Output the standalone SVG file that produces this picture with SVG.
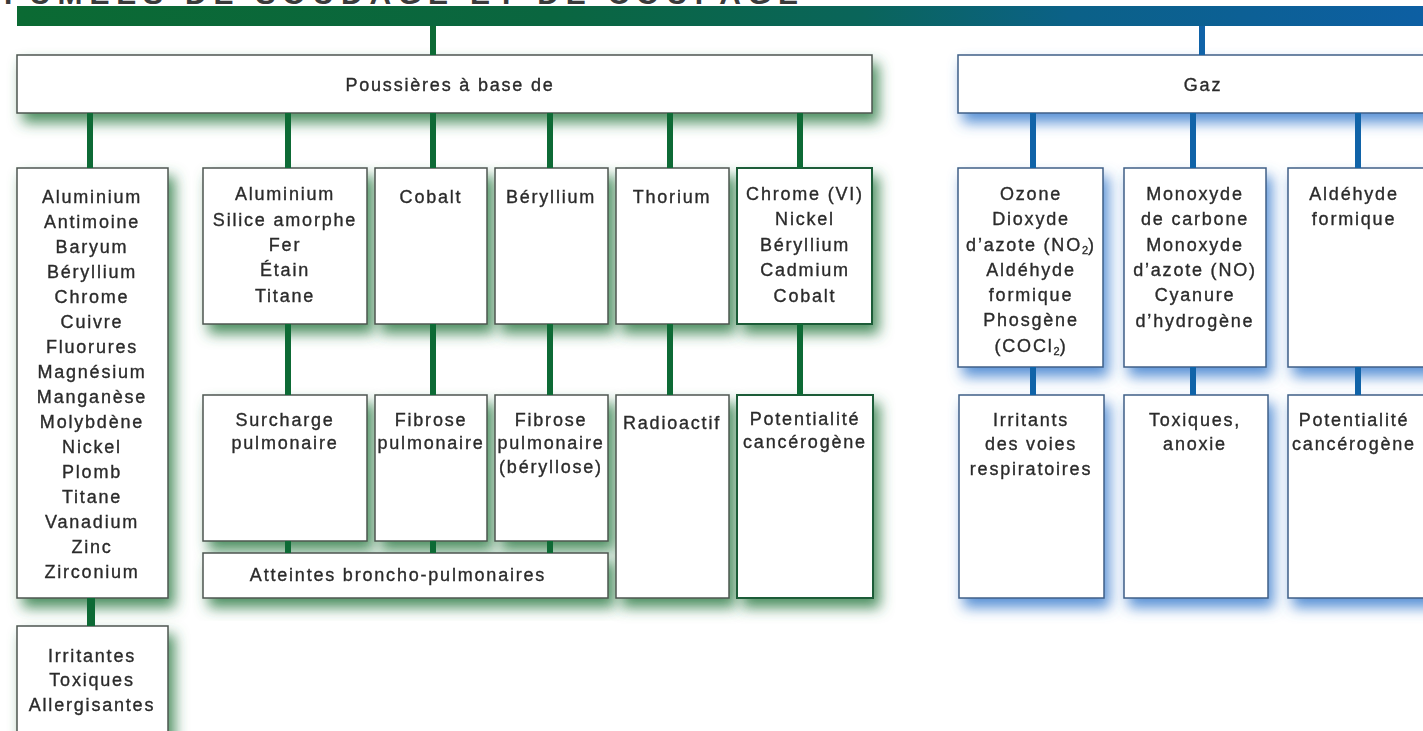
<svg xmlns="http://www.w3.org/2000/svg" width="1423" height="731" viewBox="0 0 1423 731">
<style>
  .t{font-family:"Liberation Sans",Arial,sans-serif;font-size:18px;fill:#2b2b2b;stroke:#2b2b2b;stroke-width:0.35px;text-anchor:middle;letter-spacing:1.8px}
  .title{font-family:"Liberation Sans",Arial,sans-serif;font-size:30px;font-weight:bold;fill:#3a3a3a;letter-spacing:6px}
  .bg{fill:#fff;stroke:#4d5650;stroke-width:1.5}
  .bgd{fill:#fff;stroke:#1f5c37;stroke-width:2}
  .bb{fill:#fff;stroke:#3f5f86;stroke-width:1.5}
  .cg{stroke:#0d6a35;stroke-width:6;fill:none}
  .cb{stroke:#1063a8;stroke-width:6;fill:none}
  .sub{font-size:11px;letter-spacing:0}
</style>
<defs>
  <linearGradient id="bar" x1="17" y1="0" x2="1423" y2="0" gradientUnits="userSpaceOnUse">
    <stop offset="0" stop-color="#0b6a33"/>
    <stop offset="0.38" stop-color="#0a6640"/>
    <stop offset="0.6" stop-color="#0a655a"/>
    <stop offset="0.75" stop-color="#0b6188"/>
    <stop offset="1" stop-color="#0d5fa3"/>
  </linearGradient>
  <filter id="shg" x="-15%" y="-40%" width="135%" height="190%">
    <feGaussianBlur in="SourceAlpha" stdDeviation="7"/>
    <feOffset dx="6" dy="9" result="b"/>
    <feFlood flood-color="#2f7d47" flood-opacity="0.85"/>
    <feComposite in2="b" operator="in"/>
    <feMerge><feMergeNode/><feMergeNode in="SourceGraphic"/></feMerge>
  </filter>
  <filter id="shb" x="-15%" y="-40%" width="135%" height="190%">
    <feGaussianBlur in="SourceAlpha" stdDeviation="7"/>
    <feOffset dx="5" dy="9" result="b"/>
    <feFlood flood-color="#3d7fcf" flood-opacity="0.85"/>
    <feComposite in2="b" operator="in"/>
    <feMerge><feMergeNode/><feMergeNode in="SourceGraphic"/></feMerge>
  </filter>
</defs>
<rect width="1423" height="731" fill="#fff"/>
<text class="title" x="4" y="4" textLength="800">FUMÉES DE SOUDAGE ET DE COUPAGE</text>
<rect id="header-bar" x="17" y="6" width="1406" height="20" fill="url(#bar)"/>

<g id="poussieres" filter="url(#shg)">
  <rect class="bg" x="17" y="55" width="855" height="58"/>
  <text class="t" x="450" y="91">Poussières à base de</text>
</g>
<g id="gaz" filter="url(#shb)">
  <rect class="bb" x="958" y="55" width="480" height="58"/>
  <text class="t" x="1203" y="91">Gaz</text>
</g>

<g id="metaux-liste" filter="url(#shg)">
  <rect class="bg" x="17" y="168" width="151" height="430"/>
  <text class="t" x="92" y="203">Aluminium</text>
  <text class="t" x="92" y="228">Antimoine</text>
  <text class="t" x="92" y="253">Baryum</text>
  <text class="t" x="92" y="278">Béryllium</text>
  <text class="t" x="92" y="303">Chrome</text>
  <text class="t" x="92" y="328">Cuivre</text>
  <text class="t" x="92" y="353">Fluorures</text>
  <text class="t" x="92" y="378">Magnésium</text>
  <text class="t" x="92" y="403">Manganèse</text>
  <text class="t" x="92" y="428">Molybdène</text>
  <text class="t" x="92" y="453">Nickel</text>
  <text class="t" x="92" y="478">Plomb</text>
  <text class="t" x="92" y="503">Titane</text>
  <text class="t" x="92" y="528">Vanadium</text>
  <text class="t" x="92" y="553">Zinc</text>
  <text class="t" x="92" y="578">Zirconium</text>
</g>
<g id="alu-silice" filter="url(#shg)">
  <rect class="bg" x="203" y="168" width="164" height="156"/>
  <text class="t" x="285" y="200">Aluminium</text>
  <text class="t" x="285" y="226">Silice amorphe</text>
  <text class="t" x="285" y="251">Fer</text>
  <text class="t" x="285" y="276">Étain</text>
  <text class="t" x="285" y="302">Titane</text>
</g>
<g id="cobalt" filter="url(#shg)">
  <rect class="bg" x="375" y="168" width="112" height="156"/>
  <text class="t" x="431" y="203">Cobalt</text>
</g>
<g id="beryllium" filter="url(#shg)">
  <rect class="bg" x="495" y="168" width="113" height="156"/>
  <text class="t" x="551" y="203">Béryllium</text>
</g>
<g id="thorium" filter="url(#shg)">
  <rect class="bg" x="616" y="168" width="113" height="156"/>
  <text class="t" x="672" y="203">Thorium</text>
</g>
<g id="chrome-vi" filter="url(#shg)">
  <rect class="bgd" x="737" y="168" width="135" height="156"/>
  <text class="t" x="805" y="200">Chrome (VI)</text>
  <text class="t" x="805" y="225">Nickel</text>
  <text class="t" x="805" y="251">Béryllium</text>
  <text class="t" x="805" y="276">Cadmium</text>
  <text class="t" x="805" y="302">Cobalt</text>
</g>

<g id="surcharge" filter="url(#shg)">
  <rect class="bg" x="203" y="395" width="164" height="146"/>
  <text class="t" x="285" y="426">Surcharge</text>
  <text class="t" x="285" y="449">pulmonaire</text>
</g>
<g id="fibrose" filter="url(#shg)">
  <rect class="bg" x="375" y="395" width="112" height="146"/>
  <text class="t" x="431" y="426">Fibrose</text>
  <text class="t" x="431" y="449">pulmonaire</text>
</g>
<g id="berylliose" filter="url(#shg)">
  <rect class="bg" x="495" y="395" width="113" height="146"/>
  <text class="t" x="551" y="426">Fibrose</text>
  <text class="t" x="551" y="449">pulmonaire</text>
  <text class="t" x="551" y="473">(béryllose)</text>
</g>
<g id="atteintes" filter="url(#shg)">
  <rect class="bg" x="203" y="553" width="405" height="45"/>
  <text class="t" x="398" y="581">Atteintes broncho-pulmonaires</text>
</g>
<g id="radioactif" filter="url(#shg)">
  <rect class="bg" x="616" y="395" width="113" height="203"/>
  <text class="t" x="672" y="429">Radioactif</text>
</g>
<g id="cancerogene-p" filter="url(#shg)">
  <rect class="bgd" x="737" y="395" width="136" height="203"/>
  <text class="t" x="805" y="425">Potentialité</text>
  <text class="t" x="805" y="448">cancérogène</text>
</g>
<g id="irritantes" filter="url(#shg)">
  <rect class="bg" x="17" y="626" width="151" height="120"/>
  <text class="t" x="92" y="662">Irritantes</text>
  <text class="t" x="92" y="686">Toxiques</text>
  <text class="t" x="92" y="711">Allergisantes</text>
</g>

<g id="ozone" filter="url(#shb)">
  <rect class="bb" x="958" y="168" width="145" height="199"/>
  <text class="t" x="1031" y="200">Ozone</text>
  <text class="t" x="1031" y="225">Dioxyde</text>
  <text class="t" x="1031" y="251">d’azote (NO<tspan class="sub" dy="3">2</tspan><tspan dy="-3">)</tspan></text>
  <text class="t" x="1031" y="276">Aldéhyde</text>
  <text class="t" x="1031" y="301">formique</text>
  <text class="t" x="1031" y="326">Phosgène</text>
  <text class="t" x="1031" y="352">(COCl<tspan class="sub" dy="3">2</tspan><tspan dy="-3">)</tspan></text>
</g>
<g id="monoxyde" filter="url(#shb)">
  <rect class="bb" x="1124" y="168" width="142" height="199"/>
  <text class="t" x="1195" y="200">Monoxyde</text>
  <text class="t" x="1195" y="225">de carbone</text>
  <text class="t" x="1195" y="251">Monoxyde</text>
  <text class="t" x="1195" y="276">d’azote (NO)</text>
  <text class="t" x="1195" y="301">Cyanure</text>
  <text class="t" x="1195" y="327">d’hydrogène</text>
</g>
<g id="aldehyde" filter="url(#shb)">
  <rect class="bb" x="1288" y="168" width="150" height="199"/>
  <text class="t" x="1354" y="200">Aldéhyde</text>
  <text class="t" x="1354" y="225">formique</text>
</g>
<g id="irritants-gaz" filter="url(#shb)">
  <rect class="bb" x="959" y="395" width="145" height="203"/>
  <text class="t" x="1031" y="426">Irritants</text>
  <text class="t" x="1031" y="450">des voies</text>
  <text class="t" x="1031" y="475">respiratoires</text>
</g>
<g id="toxiques-gaz" filter="url(#shb)">
  <rect class="bb" x="1124" y="395" width="144" height="203"/>
  <text class="t" x="1195" y="426">Toxiques,</text>
  <text class="t" x="1195" y="450">anoxie</text>
</g>
<g id="cancerogene-g" filter="url(#shb)">
  <rect class="bb" x="1288" y="395" width="150" height="203"/>
  <text class="t" x="1354" y="426">Potentialité</text>
  <text class="t" x="1354" y="450">cancérogène</text>
</g>

<g id="connectors">
  <line class="cg" x1="433" y1="26" x2="433" y2="55"/>
  <line class="cb" x1="1202" y1="26" x2="1202" y2="55"/>
  <line class="cg" x1="90" y1="113" x2="90" y2="168"/>
  <line class="cg" x1="288" y1="113" x2="288" y2="168"/>
  <line class="cg" x1="433" y1="113" x2="433" y2="168"/>
  <line class="cg" x1="550" y1="113" x2="550" y2="168"/>
  <line class="cg" x1="670" y1="113" x2="670" y2="168"/>
  <line class="cg" x1="800" y1="113" x2="800" y2="168"/>
  <line class="cg" x1="288" y1="324" x2="288" y2="395"/>
  <line class="cg" x1="433" y1="324" x2="433" y2="395"/>
  <line class="cg" x1="550" y1="324" x2="550" y2="395"/>
  <line class="cg" x1="670" y1="324" x2="670" y2="395"/>
  <line class="cg" x1="800" y1="324" x2="800" y2="395"/>
  <line class="cg" x1="288" y1="541" x2="288" y2="553"/>
  <line class="cg" x1="433" y1="541" x2="433" y2="553"/>
  <line class="cg" x1="550" y1="541" x2="550" y2="553"/>
  <line class="cg" x1="91" y1="598" x2="91" y2="626" style="stroke-width:8"/>
  <line class="cb" x1="1033" y1="113" x2="1033" y2="168"/>
  <line class="cb" x1="1193" y1="113" x2="1193" y2="168"/>
  <line class="cb" x1="1358" y1="113" x2="1358" y2="168"/>
  <line class="cb" x1="1033" y1="367" x2="1033" y2="395"/>
  <line class="cb" x1="1193" y1="367" x2="1193" y2="395"/>
  <line class="cb" x1="1358" y1="367" x2="1358" y2="395"/>
</g>
</svg>
